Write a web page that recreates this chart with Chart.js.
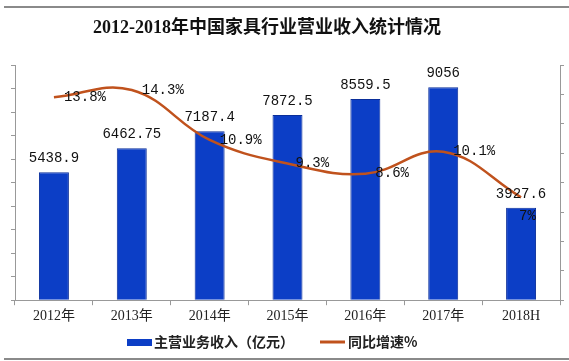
<!DOCTYPE html>
<html>
<head>
<meta charset="utf-8">
<script src="https://cdn.jsdelivr.net/npm/chart.js@4.4.1/dist/chart.umd.min.js"></script>
<style>
  html, body { margin: 0; padding: 0; background: #fff; }
  #wrap { width: 569px; height: 361px; }
</style>
</head>
<body>
<div id="wrap"><canvas id="furnitureChart" width="569" height="361"></canvas></div>
<script>
const chartTitle = '2012-2018年中国家具行业营业收入统计情况';
const years = ['2012年', '2013年', '2014年', '2015年', '2016年', '2017年', '2018H'];
const revenue = [5438.9, 6462.75, 7187.4, 7872.5, 8559.5, 9056, 3927.6];
const growth = [13.8, 14.3, 10.9, 9.3, 8.6, 10.1, 7];

// 增速标签的偏移（最后一个放在柱子里）
const growthLabelShift = [[10, 0], [10, 0], [10, 0], [8, 0], [10, 0], [10, 0], [-2, 19]];

const BLUE = '#0c3ec6';
const ORANGE = '#c0521d';

const valueLabels = {
    id: 'valueLabels',
    beforeDraw(chart) {
        const ctx = chart.ctx;
        ctx.save();
        // 上下的灰色边线
        ctx.strokeStyle = '#8a8a8a';
        ctx.lineWidth = 2;
        ctx.beginPath();
        ctx.moveTo(4, 7); ctx.lineTo(569, 7);
        ctx.moveTo(4, 359); ctx.lineTo(569, 359);
        ctx.stroke();

        // 标题
        ctx.fillStyle = '#111';
        ctx.font = 'bold 18px "Liberation Serif", "Noto Sans CJK SC"';
        ctx.textAlign = 'center';
        ctx.textBaseline = 'middle';
        ctx.fillText(chartTitle, 267, 28);

        // 图例
        const ds = chart.data.datasets;
        ctx.font = 'bold 14px "Noto Sans CJK SC"';
        ctx.textAlign = 'left';
        ctx.fillStyle = BLUE;
        ctx.fillRect(127, 339, 25, 7);
        ctx.fillStyle = '#222';
        ctx.fillText(ds[1].label, 154, 342);
        ctx.strokeStyle = ORANGE;
        ctx.lineWidth = 3;
        ctx.beginPath();
        ctx.moveTo(320, 342); ctx.lineTo(345, 342);
        ctx.stroke();
        ctx.fillText(ds[0].label, 348, 342);
        ctx.restore();
    },
    afterDatasetsDraw(chart) {
        const ctx = chart.ctx;
        ctx.save();
        ctx.font = '14px "Liberation Mono", "DejaVu Sans Mono", monospace';
        ctx.fillStyle = '#111';
        ctx.textBaseline = 'middle';

        ctx.textAlign = 'center';
        chart.getDatasetMeta(1).data.forEach((bar, i) => {
            ctx.fillText(String(revenue[i]), bar.x, bar.y - 14);
        });

        ctx.textAlign = 'left';
        chart.getDatasetMeta(0).data.forEach((pt, i) => {
            const s = growthLabelShift[i];
            ctx.fillText(growth[i] + '%', pt.x + s[0], pt.y + s[1]);
        });
        ctx.restore();
    }
};

var ctx = document.getElementById('furnitureChart').getContext('2d');

new Chart(ctx, {
    data: {
        labels: years,
        datasets: [{
            type: 'line',
            label: '同比增速%',
            data: growth,
            yAxisID: 'yRate',
            borderColor: ORANGE,
            borderWidth: 2.5,
            pointRadius: 0,
            tension: 0.4,
            order: 0
        }, {
            type: 'bar',
            label: '主营业务收入（亿元）',
            data: revenue,
            yAxisID: 'yRev',
            backgroundColor: BLUE,
            borderColor: '#0a2e9a',
            borderWidth: 1,
            barPercentage: 0.385,
            categoryPercentage: 1,
            order: 1
        }]
    },
    options: {
        responsive: false,
        animation: false,
        layout: { padding: { left: 11, right: 5, top: 65, bottom: 33 } },
        plugins: {
            title: { display: false },
            legend: { display: false },
            tooltip: { enabled: false }
        },
        scales: {
            x: {
                grid: { drawOnChartArea: false, color: '#999', tickLength: 5 },
                border: { color: '#999' },
                ticks: {
                    color: '#222',
                    padding: 3,
                    font: { family: '"Liberation Serif", "Noto Sans CJK SC"', size: 14 }
                }
            },
            yRev: {
                position: 'left',
                min: 0,
                max: 10000,
                ticks: { stepSize: 1000, display: false },
                grid: { drawOnChartArea: false, color: '#999', tickLength: 4 },
                border: { color: '#999' }
            },
            yRate: {
                position: 'right',
                min: 0,
                max: 16,
                ticks: { stepSize: 2, display: false },
                grid: { drawOnChartArea: false, color: '#999', tickLength: 4 },
                border: { color: '#999' }
            }
        }
    },
    plugins: [valueLabels]
});
</script>
</body>
</html>
